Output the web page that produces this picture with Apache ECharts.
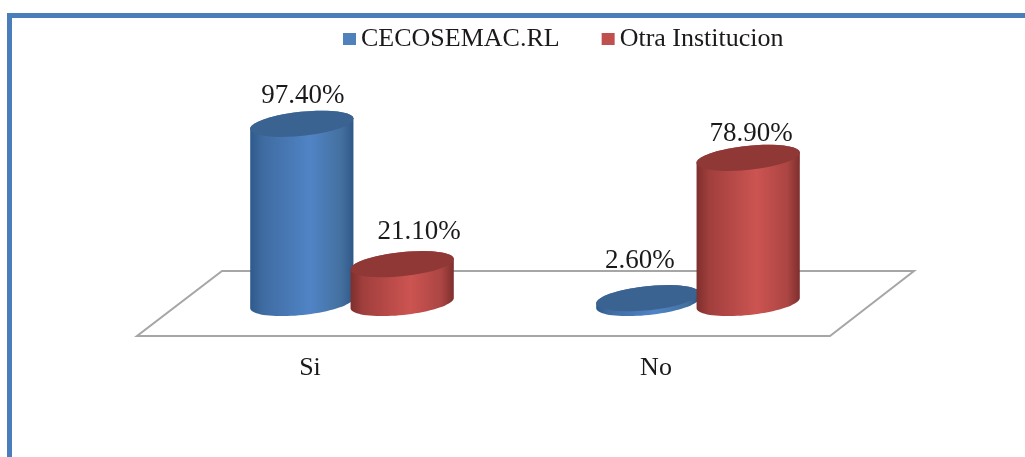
<!DOCTYPE html>
<html>
<head>
<meta charset="utf-8">
<style>
  html, body { margin: 0; padding: 0; background: #fff; }
  #chart { width: 1025px; height: 457px; }
</style>
<script src="https://cdn.jsdelivr.net/npm/echarts@6/dist/echarts.min.js"></script>
</head>
<body>
<div id="chart"></div>
<script>
const categories = ['Si', 'No']
const seriesNames = ['CECOSEMAC.RL', 'Otra Institucion']
const cecosemac = [97.4, 2.6]
const otra = [21.1, 78.9]

const font = '"Liberation Serif", "Times New Roman", serif'

// label nudges per series / category, the original has them hand placed
const labelShift = [
  [[1, -28], [-8, -37]],
  [[17, -32], [3, -24]],
]

const looks = [
  {
    top: '#3b6391',
    side: [[0, '#2f5a8c'], [0.12, '#3f6ba1'], [0.58, '#5084c6'], [0.88, '#44709f'], [1, '#2f5888']],
  },
  {
    top: '#8f3836',
    side: [[0, '#7e2f2d'], [0.12, '#a03f3d'], [0.58, '#cc5451'], [0.88, '#ab4543'], [1, '#7e2f2d']],
  },
]

// points of a tilted ellipse between two angles
function arc(cx, cy, a, b, from, to) {
  const tilt = (-6 * Math.PI) / 180
  const pts = []
  for (let i = 0; i <= 40; i++) {
    const t = from + ((to - from) * i) / 40
    const x = a * Math.cos(t)
    const y = b * Math.sin(t)
    pts.push([cx + x * Math.cos(tilt) - y * Math.sin(tilt), cy + x * Math.sin(tilt) + y * Math.cos(tilt)])
  }
  return pts
}

function cylinder(seriesIndex) {
  return function (params, api) {
    const i = api.value(0)
    const v = api.value(1)
    const band = api.size([1, 0])[0]
    const center = api.coord([i, 0])[0]
    const cx = center + (seriesIndex === 0 ? -0.145 : 0.145) * band
    const base = api.coord([i, 0])[1]
    const head = api.coord([i, v])[1]
    const a = band * 0.15
    const b = 12
    const look = looks[seriesIndex]
    const shift = labelShift[seriesIndex][i]

    const bottom = arc(cx, base, a, b, 0, Math.PI)
    const top = arc(cx, head, a, b, Math.PI, 2 * Math.PI)
    return {
      type: 'group',
      children: [
        {
          type: 'polygon',
          shape: { points: top.concat(bottom) },
          style: {
            fill: {
              type: 'linear',
              x: 0,
              y: 0,
              x2: 1,
              y2: 0,
              colorStops: look.side.map((s) => ({ offset: s[0], color: s[1] })),
            },
          },
        },
        {
          type: 'polygon',
          shape: { points: arc(cx, head, a, b, 0, 2 * Math.PI) },
          style: { fill: look.top },
        },
        {
          type: 'text',
          z2: 10,
          style: {
            text: v.toFixed(2) + '%',
            x: cx + shift[0],
            y: head + shift[1],
            align: 'center',
            verticalAlign: 'middle',
            fill: '#1a1a1a',
            font: '27px ' + font,
          },
        },
      ],
    }
  }
}

const chart = echarts.init(document.getElementById('chart'))
chart.setOption({
  animation: false,
  backgroundColor: '#fff',
  legend: {
    left: 343,
    top: 26,
    padding: 0,
    itemWidth: 13,
    itemHeight: 12,
    itemGap: 42,
    icon: 'rect',
    data: seriesNames,
    textStyle: { fontFamily: font, fontSize: 26, color: '#1a1a1a' },
  },
  grid: { left: 179, width: 692, top: 119, height: 184 },
  xAxis: {
    type: 'category',
    data: categories,
    axisLine: { show: false },
    axisTick: { show: false },
    axisLabel: {
      margin: 52,
      padding: [0, 84, 0, 0],
      fontFamily: font,
      fontSize: 26,
      color: '#1a1a1a',
    },
  },
  yAxis: { type: 'value', min: 0, max: 100, show: false },
  graphic: [
    // frame
    { type: 'rect', shape: { x: 7, y: 13, width: 1018, height: 5 }, style: { fill: '#4a7ebb' } },
    { type: 'rect', shape: { x: 7, y: 13, width: 5, height: 444 }, style: { fill: '#4a7ebb' } },
    // floor
    {
      type: 'polygon',
      z: 0,
      shape: { points: [[222, 271], [914, 271], [830, 336], [137, 336]] },
      style: { fill: '#fff', stroke: '#a6a6a6', lineWidth: 2 },
    },
  ],
  series: [
    {
      name: seriesNames[0],
      type: 'custom',
      z: 3,
      clip: false,
      itemStyle: { color: '#4f81bd' },
      renderItem: cylinder(0),
      data: cecosemac.map((v, i) => [i, v]),
    },
    {
      name: seriesNames[1],
      type: 'custom',
      z: 4,
      clip: false,
      itemStyle: { color: '#c0504d' },
      renderItem: cylinder(1),
      data: otra.map((v, i) => [i, v]),
    },
  ],
})
</script>
</body>
</html>
